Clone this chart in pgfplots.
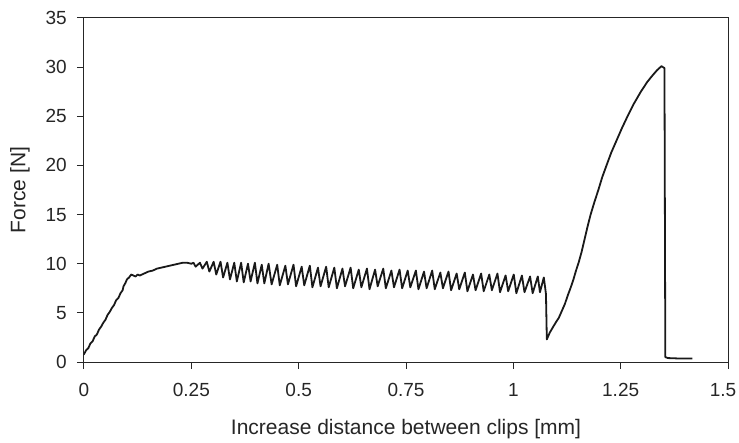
\documentclass[border=0pt]{standalone}
\usepackage{pgfplots}
\pgfplotsset{compat=1.18}
\usepackage{fontspec}
\setmainfont{Liberation Sans}
\begin{document}
\begin{tikzpicture}
\begin{axis}[
  width=644bp, height=344bp, scale only axis,
  xmin=0, xmax=1.5, ymin=0, ymax=35,
  xtick={0,0.25,0.5,0.75,1,1.25,1.5},
  xticklabels={0,0.25,0.5,0.75,1,1.25,\hspace*{-10bp}1.5},
  ytick={0,5,10,15,20,25,30,35},
  tick pos=left, tick align=outside, major tick length=7bp,
  axis line style={line width=1bp, black!85},
  tick style={line width=1bp, black!85},
  /pgf/number format/assume math mode=true,
  ticklabel style={font=\fontsize{19bp}{22bp}\selectfont, text=black!85},
  xticklabel style={yshift=-10.7bp},
  yticklabel style={xshift=-6.7bp},
  label style={font=\fontsize{21bp}{25bp}\selectfont, text=black!85},
  xlabel={Increase distance between clips [mm]},
  ylabel={Force [N]},
  xlabel style={at={(axis description cs:0.5,-0.2093)}, anchor=base},
  ylabel style={at={(axis description cs:-0.0994,0.5)}, anchor=center},
]
\coordinate (bl) at (rel axis cs:0,0);
\coordinate (tr) at (rel axis cs:1,1);
\addplot[black!90, line width=1.8bp, line join=round] coordinates {
(-0.012,0.6) (0.000,0.8) (0.005,1.2) (0.010,1.4) (0.015,1.9) (0.020,2.1) (0.025,2.6) (0.030,2.8)
(0.035,3.3) (0.040,3.6) (0.045,4.0) (0.050,4.3) (0.055,4.8) (0.060,5.1) (0.065,5.5) (0.070,5.8)
(0.075,6.3) (0.080,6.5) (0.085,7.0) (0.090,7.3) (0.092,7.7) (0.096,8.0) (0.100,8.4) (0.105,8.6)
(0.110,8.9) (0.115,8.8) (0.120,8.7) (0.125,8.9) (0.130,8.8) (0.135,8.9) (0.140,9.0) (0.150,9.2)
(0.160,9.3) (0.170,9.5) (0.180,9.6) (0.190,9.7) (0.200,9.8) (0.210,9.9) (0.220,10.0) (0.230,10.1)
(0.240,10.1) (0.250,10.0) (0.255,10.1)
(0.260,9.7) (0.270,10.1)
(0.276,9.5) (0.286,10.2)
(0.292,9.2) (0.302,10.2)
(0.308,8.9) (0.318,10.2)
(0.324,8.6) (0.334,10.1)
(0.340,8.4) (0.350,10.1)
(0.356,8.2) (0.366,10.1)
(0.372,8.1) (0.382,10.0)
(0.388,8.2) (0.398,10.1)
(0.404,8.0) (0.414,9.9)
(0.420,8.0) (0.430,10.0)
(0.437,7.9) (0.450,9.9)
(0.456,7.8) (0.469,9.8)
(0.475,7.9) (0.488,9.9)
(0.494,7.7) (0.507,9.7)
(0.513,7.8) (0.526,9.8)
(0.532,7.6) (0.545,9.6)
(0.551,7.7) (0.564,9.7)
(0.570,7.6) (0.583,9.6)
(0.589,7.5) (0.602,9.5)
(0.608,7.7) (0.621,9.6)
(0.627,7.5) (0.640,9.4)
(0.646,7.6) (0.659,9.5)
(0.665,7.4) (0.678,9.4)
(0.684,7.7) (0.697,9.5)
(0.703,7.5) (0.716,9.3)
(0.722,7.6) (0.735,9.4)
(0.741,7.5) (0.754,9.3)
(0.760,7.6) (0.773,9.3)
(0.779,7.4) (0.792,9.2)
(0.798,7.5) (0.811,9.3)
(0.817,7.4) (0.830,9.1)
(0.836,7.5) (0.849,9.2)
(0.855,7.3) (0.868,9.0)
(0.874,7.4) (0.887,9.1)
(0.893,7.2) (0.906,8.9)
(0.912,7.3) (0.925,9.0)
(0.931,7.2) (0.944,8.9)
(0.950,7.3) (0.963,9.0)
(0.969,7.1) (0.982,8.8)
(0.988,7.2) (1.001,8.9)
(1.007,7.0) (1.020,8.8)
(1.026,7.1) (1.039,8.7)
(1.045,7.0) (1.057,8.7)
(1.062,7.1) (1.071,8.6)
(1.074,7.6) (1.076,6.9) (1.078,2.3)
(1.085,3.0) (1.093,3.6) (1.100,4.1) (1.106,4.5) (1.112,5.1) (1.120,5.9) (1.127,6.8) (1.133,7.5)
(1.140,8.4) (1.146,9.3) (1.152,10.1) (1.159,11.2) (1.166,12.5) (1.173,13.8) (1.180,15.0)
(1.189,16.3) (1.198,17.5) (1.207,18.8) (1.217,20.0) (1.228,21.3) (1.240,22.5) (1.253,23.8)
(1.266,25.0) (1.281,26.3) (1.297,27.5) (1.312,28.5) (1.325,29.2) (1.335,29.7) (1.345,30.1)
(1.352,29.9) (1.354,0.5) (1.360,0.4) (1.390,0.35) (1.417,0.35)
};
\end{axis}
\pgfresetboundingbox
\path ([shift={(-84bp,-81bp)}]bl) rectangle ([shift={(11bp,18bp)}]tr);
\end{tikzpicture}
\end{document}
